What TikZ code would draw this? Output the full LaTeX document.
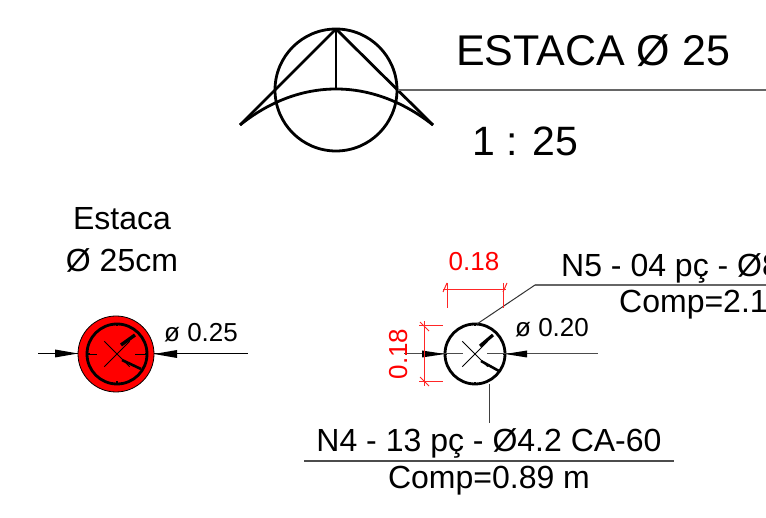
\documentclass[tikz,border=0pt]{standalone}
\usepackage{fontspec}
\setmainfont{Liberation Sans}
\definecolor{redmark}{RGB}{255,0,0}
\tikzset{
  x=1pt,y=-1pt,
  thickline/.style={black,line width=2.8pt},
  leader/.style={black!75,line width=1pt},
  dimline/.style={redmark!85!white,line width=1pt},
  reddim/.style={redmark,font=\fontsize{26}{28}\selectfont,inner sep=0},
  label/.style={inner sep=0,text=black},
  bigtext/.style={label,font=\fontsize{32}{35}\selectfont},
  tip/.style={fill=black,draw=none},
}
\begin{document}
\begin{tikzpicture}
\useasboundingbox (0,0) rectangle (766,518);
\clip (0,0) rectangle (766,518);
% title symbol
\coordinate (sc) at (336,90);
\draw[thickline] (sc) circle (61);
\coordinate (apex) at (336,29);
\coordinate (ll) at (240,125);
\coordinate (rr) at (433,125);
\coordinate (mid) at (336,89);
\draw[thickline,line join=round] (ll) -- (apex) -- (rr);
\draw[thickline] (apex) -- (mid);
\draw[thickline] (ll) .. controls (300,77) and (372,77) .. (rr);
\draw[black!60,line width=1.4pt] (398,90) -- (766,90);
\node[label,anchor=base west,font=\fontsize{43}{46}\selectfont] (title) at (456,66) {ESTACA Ø 25};
\node[label,anchor=base west,font=\fontsize{41}{46}\selectfont] (scale) at (472,156) {1 : 25};
% left pile
\node[bigtext,anchor=base] (e1) at (122,230) {Estaca};
\node[bigtext,anchor=base] (e2) at (122,272) {Ø 25cm};
\coordinate (a) at (116,354);
\draw[black,line width=.8pt,fill=redmark] (a) circle (38);
\draw[black,line width=2.8pt] (117,354) circle (30);
\foreach \ang in {90,180,270,0} \draw[black,line width=1.2pt] (117,354) ++(\ang:30) -- ++(\ang:-2.5);
\draw[black,line width=.8pt] (117,354) ++(-45:18) -- ++(135:36);
\draw[black,line width=.8pt] (117,354) ++(45:18) -- ++(225:36);
\draw[black,line width=.8pt] (87,354) -- (97,354) (135,354) -- (145,354);
\draw[black,line width=3.4pt] (135,335) -- (121,345);
\draw[black,line width=2.6pt] (141,369) -- (122,360);
\draw[black,line width=1pt] (38,353.5) -- (78,353.5);
\draw[black,line width=1pt] (154,354) -- (248,354);
\fill[tip] (55,349.5) -- (78,353.5) -- (55,357.5) -- cycle;
\fill[tip] (177,350) -- (154,354) -- (177,358) -- cycle;
\node[label,anchor=base west,font=\fontsize{26}{28}\selectfont] (d1) at (164,342) {ø 0.25};
% right pile
\coordinate (b) at (475,354);
\draw[black,line width=2.8pt] (b) circle (30);
\foreach \ang in {90,180,270,0} \draw[black,line width=1.2pt] (b) ++(\ang:30) -- ++(\ang:-2);
\draw[black,line width=.8pt] (b) ++(-45:18) -- ++(135:36);
\draw[black,line width=.8pt] (b) ++(45:18) -- ++(225:36);
\draw[black,line width=3.2pt] (493,335) -- (480,346);
\draw[black,line width=2.6pt] (499,371) -- (481,361);
\draw[black!70,line width=1pt] (404,354) -- (463,354) (487,354) -- (598,354);
\fill[tip] (422,350.5) -- (445,354) -- (422,357.5) -- cycle;
\fill[tip] (527,350.5) -- (505,354) -- (527,357.5) -- cycle;
\node[label,anchor=base west,font=\fontsize{26}{28}\selectfont] (d2) at (515,337) {ø 0.20};
% leaders
\coordinate (p1) at (477,324);
\coordinate (p2) at (535,285);
\draw[black!80,line width=1pt] (p1) -- (p2);
\draw[black!60,line width=1.4pt] (p2) -- (766,285);
\coordinate (p3) at (489,384);
\coordinate (p4) at (489,423);
\draw[leader] (p3) -- (p4);
\draw[black!70,line width=1.2pt] (304,461) -- (674,461);
\node[bigtext,anchor=base] (n4) at (489,452) {N4 - 13 pç - Ø4.2 CA-60};
\node[bigtext,anchor=base] (c4) at (489,488) {Comp=0.89 m};
\node[bigtext,anchor=base west] (n5) at (561,277) {N5 - 04 pç - Ø8};
\node[bigtext,anchor=base west] (c5) at (619,313) {Comp=2.1};
% red dimensions
\draw[dimline] (443,290) -- (506,290);
\draw[dimline] (447,283) -- (447,308) (503,283) -- (503,308);
\draw[dimline] (443,292) -- (447,283) (503,292) -- (507,283);
\draw[dimline] (424,321) -- (424,386);
\draw[dimline] (419,326) -- (443,326) (419,381.5) -- (443,381.5);
\draw[dimline] (420,322) -- (429,331) (420,377) -- (429,386);
\node[reddim,anchor=base] (r1) at (474,271) {0.18};
\node[reddim,anchor=base,rotate=90] (r2) at (407,354) {0.18};
\end{tikzpicture}
\end{document}
